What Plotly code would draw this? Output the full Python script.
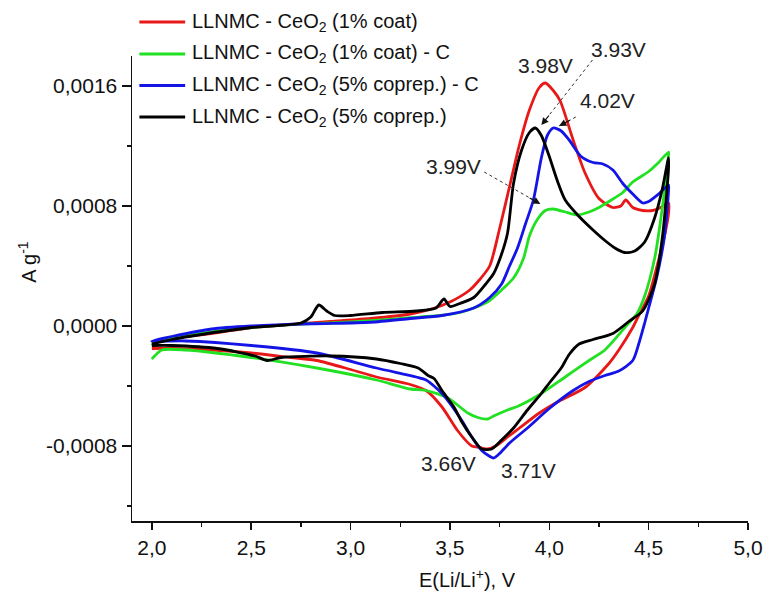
import plotly.graph_objects as go

# ---------------- data ----------------
series_names = [
    "LLNMC - CeO<sub>2</sub> (1% coat)",
    "LLNMC - CeO<sub>2</sub> (1% coat) - C",
    "LLNMC - CeO<sub>2</sub> (5% coprep.) - C",
    "LLNMC - CeO<sub>2</sub> (5% coprep.)",
]
series_colors = ["#e81818", "#22e022", "#1414e6", "#000000"]

# Red: 1% coat  (anodic sweep 2.0 -> 4.6, then cathodic 4.6 -> 2.0)
red_E = [2.0, 2.1, 2.3, 2.5, 2.7, 2.9, 3.1, 3.3, 3.4, 3.5, 3.6, 3.65, 3.7, 3.75, 3.8, 3.85, 3.9, 3.95,
         3.98, 4.02, 4.055, 4.12, 4.18, 4.25, 4.32, 4.36, 4.385, 4.42, 4.47, 4.52, 4.56, 4.6,
         4.6, 4.58, 4.55, 4.5, 4.45, 4.42, 4.35, 4.3, 4.18, 4.05, 3.95, 3.85, 3.79, 3.73, 3.69, 3.65,
         3.61, 3.54, 3.46, 3.38, 3.3, 3.13, 3.0, 2.83, 2.7, 2.5, 2.3, 2.1, 2.0]
red_I = [-0.00011, -0.00008, -0.00005, -0.00001, 0.00001, 0.00003, 0.00005, 0.00008, 0.00011, 0.00016,
         0.00024, 0.00031, 0.00040, 0.00065, 0.00093, 0.00121, 0.00144, 0.00159,
         0.00162, 0.00157, 0.00150, 0.00124, 0.00102, 0.00085, 0.00079, 0.00080, 0.00084, 0.00079,
         0.00077, 0.00077, 0.00079, 0.00082,
         0.00075, 0.00060, 0.00044, 0.00020, 0.00007, -0.00001, -0.00016, -0.00025, -0.00041, -0.00050,
         -0.00058, -0.00068, -0.00074, -0.00080, -0.00082, -0.00081,
         -0.00080, -0.00070, -0.00054, -0.00043, -0.00039, -0.00034, -0.00029, -0.00023, -0.00021,
         -0.00018, -0.00016, -0.00015, -0.00015]

# Green: 1% coat - C
green_E = [2.0, 2.02, 2.1, 2.3, 2.5, 2.7, 2.9, 3.1, 3.3, 3.45, 3.55, 3.62, 3.7, 3.76, 3.82, 3.87, 3.9,
           3.94, 3.98, 4.02, 4.08, 4.14, 4.2, 4.25, 4.3, 4.37, 4.42, 4.5, 4.55, 4.6,
           4.6, 4.57, 4.53, 4.48, 4.44, 4.4, 4.28, 4.2, 4.08, 3.96, 3.85, 3.79, 3.72, 3.69, 3.64, 3.59,
           3.49, 3.38, 3.3, 3.13, 2.83, 2.5, 2.17, 2.05, 2.0]
green_I = [-0.00013, -0.00010, -0.00008, -0.00004, -0.00001, 0.00001, 0.00002, 0.000035, 0.000055,
           0.00007, 0.00009, 0.00012, 0.00017, 0.00024, 0.00032, 0.00045, 0.00060,
           0.00071, 0.00077, 0.00078, 0.00076, 0.00074, 0.00076, 0.00079, 0.00083, 0.00089, 0.00096,
           0.00103, 0.00109, 0.00116,
           0.00114, 0.00080, 0.00045, 0.00020, 0.00008, 0.00002, -0.00016, -0.00023, -0.00034, -0.00045,
           -0.00053, -0.00056, -0.00060, -0.00062, -0.00061, -0.00058,
           -0.00048, -0.00043, -0.00042, -0.00036, -0.00028, -0.00021, -0.00016, -0.00016, -0.00022]

# Blue: 5% coprep. - C
blue_E = [2.0, 2.1, 2.3, 2.5, 2.8, 3.1, 3.3, 3.46, 3.62, 3.7, 3.76, 3.8, 3.84, 3.88, 3.92, 3.96, 3.99,
          4.02, 4.06, 4.1, 4.16, 4.22, 4.27, 4.32, 4.37, 4.42, 4.47, 4.5, 4.55, 4.6,
          4.6, 4.58, 4.54, 4.5, 4.48, 4.45, 4.42, 4.35, 4.28, 4.2, 4.12, 4.0, 3.89, 3.8, 3.75, 3.72,
          3.69, 3.66, 3.6, 3.56, 3.46, 3.38, 3.33, 3.13, 2.83, 2.5, 2.17, 2.0]
blue_I = [-0.00010, -0.00007, -0.00002, 0.0, 0.000015, 0.000025, 0.00005, 0.00007, 0.00012, 0.00019,
          0.00028, 0.00040, 0.00052, 0.00068, 0.00084, 0.00112, 0.00127,
          0.00132, 0.00130, 0.00124, 0.00113, 0.00109, 0.00108, 0.00104, 0.00095, 0.00088, 0.00082,
          0.00083, 0.00088, 0.00094,
          0.00090, 0.00060, 0.00032, 0.00012, 0.00002, -0.00012, -0.00023, -0.00030, -0.00033, -0.00037,
          -0.00043, -0.00055, -0.00068, -0.00078, -0.00085, -0.00088,
          -0.00086, -0.00083, -0.00072, -0.00063, -0.00045, -0.00036, -0.00034, -0.00028, -0.00018,
          -0.00013, -0.00010, -0.00010]

# Black: 5% coprep.
black_E = [2.0, 2.1, 2.33, 2.5, 2.75, 2.8, 2.84, 2.88, 2.92, 3.0, 3.16, 3.33, 3.43, 3.47, 3.5, 3.55,
           3.62, 3.68, 3.72, 3.76, 3.79, 3.82, 3.86, 3.9, 3.93, 3.96, 4.0, 4.04, 4.08, 4.15, 4.22,
           4.28, 4.33, 4.38, 4.43, 4.48, 4.53, 4.57, 4.6,
           4.6, 4.57, 4.53, 4.47, 4.4, 4.32, 4.22, 4.15, 4.1, 4.06, 4.0, 3.96, 3.89, 3.82, 3.76, 3.71,
           3.66, 3.61, 3.56, 3.52, 3.46, 3.42, 3.39, 3.34, 3.25, 3.13, 2.9, 2.65, 2.58, 2.52, 2.33,
           2.1, 2.0]
black_I = [-0.00012, -0.00009, -0.00004, -0.00001, 0.00002, 0.00006, 0.00014, 0.00010, 0.00007,
           0.00007, 0.00009, 0.00010, 0.00012, 0.00018, 0.00013, 0.00015,
           0.00019, 0.00028, 0.00035, 0.00048, 0.00062, 0.00095, 0.00117, 0.00129, 0.00132, 0.00127,
           0.00113, 0.00097, 0.00084, 0.00073, 0.00064,
           0.00057, 0.00052, 0.00049, 0.00050, 0.00056, 0.00072, 0.00092, 0.00112,
           0.00105, 0.00060, 0.00028, 0.00010, 0.00003, -0.00005, -0.00009, -0.00012, -0.00019,
           -0.00028, -0.00038, -0.00045, -0.00056, -0.00068, -0.00076, -0.00082,
           -0.00082, -0.00074, -0.00064, -0.00054, -0.00043, -0.00035, -0.00033, -0.00028, -0.00025,
           -0.00022, -0.00020, -0.00021, -0.00023, -0.00020, -0.00015, -0.00013, -0.00013]

x_tick_vals = [2.0, 2.5, 3.0, 3.5, 4.0, 4.5, 5.0]
x_tick_text = ["2,0", "2,5", "3,0", "3,5", "4,0", "4,5", "5,0"]
y_tick_vals = [0.0016, 0.0008, 0.0, -0.0008]
y_tick_text = ["0,0016", "0,0008", "0,0000", "-0,0008"]

peak_labels = ["3.98V", "3.93V", "4.02V", "3.99V", "3.66V", "3.71V"]

# ---------------- figure ----------------
FONT = "Liberation Sans, Arial, sans-serif"
fig = go.Figure()

all_E = [red_E, green_E, blue_E, black_E]
all_I = [red_I, green_I, blue_I, black_I]
for E, I, c in zip(all_E, all_I, series_colors):
    fig.add_trace(go.Scatter(x=E, y=I, mode="lines", showlegend=False,
                             line=dict(color=c, width=2.8, shape="spline", smoothing=0.7)))

W, H = 775, 599
ml, mr, mt, mb = 132, 17, 56, 78
pw, ph = W - ml - mr, H - mt - mb


def px2paper(xp, yp):
    return (xp - ml) / pw, (H - mb - yp) / ph


# manual legend (lines + text)
leg_rows_px = [22, 54, 85.5, 117]
for name, c, yp in zip(series_names, series_colors, leg_rows_px):
    x0, y0 = px2paper(139.5, yp)
    x1, _ = px2paper(186, yp)
    fig.add_shape(type="line", xref="paper", yref="paper", x0=x0, x1=x1, y0=y0, y1=y0,
                  line=dict(color=c, width=3))
    xt, yt = px2paper(191, yp)
    fig.add_annotation(xref="paper", yref="paper", x=xt, y=yt, text=name, showarrow=False,
                       xanchor="left", yanchor="middle", font=dict(size=20, color="#111", family=FONT))

# peak labels (pixel positions converted to paper coordinates)
label_px = [(552, 65), (626, 50), (615, 100.5), (458.5, 166.5), (454, 463), (535, 470)]
for t, (xp, yp) in zip(peak_labels, label_px):
    xa, ya = px2paper(xp, yp)
    fig.add_annotation(xref="paper", yref="paper", x=xa, y=ya, text=t, showarrow=False,
                       xanchor="center", yanchor="middle",
                       font=dict(size=21, color="#222", family=FONT))

# dotted leader lines with arrow heads (pixel positions)
arrows_px = [((600, 60), (548, 125), (8.8, -11)),
             ((583, 117), (566, 126), (12.4, -6.5)),
             ((490, 172), (547, 204), (-12.2, -6.9))]
for (sx, sy), (tx, ty), (ax, ay) in arrows_px:
    x0, y0 = px2paper(sx, sy)
    x1, y1 = px2paper(tx, ty)
    fig.add_shape(type="line", xref="paper", yref="paper", x0=x0, y0=y0, x1=x1, y1=y1,
                  line=dict(color="#333", width=1, dash="dot"))
    fig.add_annotation(xref="paper", yref="paper", x=x1, y=y1, text="", showarrow=True,
                       arrowhead=2, arrowsize=1.2, arrowwidth=1.2, arrowcolor="#111",
                       ax=ax, ay=ay, standoff=0)

# axis titles
tx, ty = px2paper(473, 578)
fig.add_annotation(xref="paper", yref="paper", x=tx, y=ty, text="E(Li/Li<sup>+</sup>), V",
                   showarrow=False, xanchor="center", yanchor="middle",
                   font=dict(size=20, color="#111", family=FONT))
tx, ty = px2paper(25, 262)
fig.add_annotation(xref="paper", yref="paper", x=tx, y=ty, text="A g<sup>-1</sup>", textangle=-90,
                   showarrow=False, xanchor="center", yanchor="middle",
                   font=dict(size=20, color="#111", family=FONT))

fig.update_layout(
    width=W, height=H, autosize=False,
    margin=dict(l=ml, r=mr, t=mt, b=mb),
    paper_bgcolor="white", plot_bgcolor="white",
    font=dict(family=FONT, size=21, color="#111"),
    showlegend=False,
)
fig.update_xaxes(range=[1.9, 5.0], showline=True, linecolor="#111", linewidth=1.5, showgrid=False,
                 zeroline=False, tickmode="array", tickvals=x_tick_vals, ticktext=x_tick_text,
                 ticks="outside", ticklen=7, tickwidth=1.5, tickcolor="#111",
                 tickfont=dict(size=21, family=FONT, color="#111"),
                 minor=dict(ticks="outside", ticklen=4, tickwidth=1.5, tickcolor="#111",
                            dtick=0.25, tick0=2.0, showgrid=False))
fig.update_yaxes(range=[-0.0013, 0.0018], showline=True, linecolor="#111", linewidth=1.5, showgrid=False,
                 zeroline=False, tickmode="array", tickvals=y_tick_vals, ticktext=y_tick_text,
                 ticks="outside", ticklen=9, tickwidth=1.5, tickcolor="#111",
                 tickfont=dict(size=21, family=FONT, color="#111"),
                 minor=dict(ticks="outside", ticklen=4, tickwidth=1.5, tickcolor="#111",
                            dtick=0.0004, tick0=0.0, showgrid=False))

fig.write_html("out.html",
               config={"displayModeBar": False, "staticPlot": True},
               post_script="document.documentElement.style.margin='0';"
                           "document.body.style.margin='0';document.body.style.padding='0';")
